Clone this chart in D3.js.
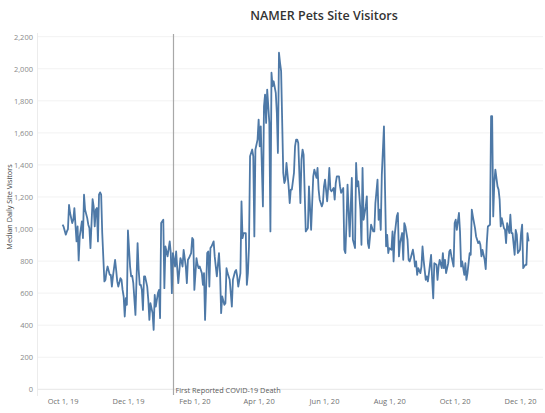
<!DOCTYPE html>
<html>
<head>
<meta charset="utf-8">
<script src="https://cdn.jsdelivr.net/npm/d3@7"></script>
<style>
  html, body { margin: 0; padding: 0; background: #fff; }
  svg { display: block; }
</style>
</head>
<body>
<svg id="chart" width="545" height="413"></svg>
<script>
// ---- Data ----
const chartTitle = "NAMER Pets Site Visitors";
const yAxisTitle = "Median Daily Site Visitors";
const startDate = "2019-10-01";
const markerDate = "2020-01-12";
const markerLabel = "First Reported COVID-19 Death";
const yTicks = [0, 200, 400, 600, 800, 1000, 1200, 1400, 1600, 1800, 2000, 2200];
const xTickDates = ["2019-10-01", "2019-12-01", "2020-02-01", "2020-04-01", "2020-06-01", "2020-08-01", "2020-10-01", "2020-12-01"];

// days since startDate
const dayOffsets = [
  0,1,3,4,5,6,7,9,10,11,13,14,15,16,18,19,20,21,23,24,25,26,28,29,30,31,32,33,34,35,36,37,39,40,41,42,44,45,46,47,49,50,51,52,54,55,56,57,58,59,60,61,
  63,64,65,66,68,69,70,71,72,73,74,75,76,77,79,80,81,82,84,85,86,87,89,90,91,92,94,95,96,97,98,100,101,102,103,105,106,107,108,110,111,112,113,115,116,117,118,120,121,122,123,125,126,127,128,
  130,131,132,133,135,136,137,138,139,141,142,143,144,146,147,148,149,151,152,153,154,156,157,158,159,161,162,163,164,166,167,168,169,171,172,173,174,175,177,178,179,180,182,183,184,185,187,188,
  189,190,191,193,194,195,196,197,199,200,201,202,203,204,206,207,208,209,211,212,213,214,216,217,218,219,220,222,223,224,225,227,228,229,230,232,233,234,235,237,238,239,240,242,243,244,245,247,248,249,250,251,253,254,255,256,258,259,
  260,262,263,264,265,266,268,269,270,271,273,274,275,276,278,279,280,281,283,284,285,286,288,289,290,291,292,294,295,296,297,298,300,301,302,303,304,305,307,308,309,310,312,313,314,315,317,318,319,320,322,323,324,325,327,328,329,
  330,331,332,334,335,336,337,339,340,341,342,344,345,346,347,349,350,351,352,354,355,356,357,358,360,361,362,363,365,366,367,368,370,371,372,373,375,376,377,378,380,381,382,383,
  385,386,388,389,390,391,392,394,395,396,397,399,400,401,402,403,404,406,407,408,409,410,412,413,414,415,417,418,419,420,422,423,424,425,427,428,429,430,432,433,434,435
];
const visitors = [
  1027,1013,965,985,1000,1150,1100,1037,1058,1131,923,1016,804,954,1048,944,1214,1120,1068,1027,1006,881,1187,1141,1016,1120,1131,923,1214,1229,1214,975,673,683,735,766,714,714,641,704,808,745,673,641,693,683,620,579,454,568,527,991,
  766,704,708,662,464,683,912,745,652,652,620,495,704,704,641,558,433,537,475,371,589,516,600,620,444,1037,1058,631,891,860,829,923,850,600,850,766,860,756,662,819,798,766,870,766,662,808,819,850,944,933,620,819,777,756,766,
  725,652,725,433,850,860,641,881,891,923,829,766,704,850,725,475,579,527,537,756,725,683,600,516,683,735,745,704,641,725,1173,943,975,975,652,725,891,1454,1496,1454,954,1496,1558,1683,1516,1641,1141,1766,
  1839,1662,1870,1662,985,1975,1891,1922,1850,1725,1475,2100,2037,1985,1350,1287,1308,1412,1266,1162,1246,1246,1350,1516,1558,1558,1537,1162,1433,1496,1464,985,995,1006,1266,995,1162,1329,1371,1319,1381,1246,1183,1141,1162,1266,1308,1173,1266,1381,1246,1235,1256,1183,1287,1329,1329,1266,
  1225,1256,871,850,1037,1277,954,1141,1319,933,881,1412,1266,1298,1121,902,1381,1058,1141,1204,912,881,1027,1006,985,985,1162,1308,1058,1121,995,1339,1641,1246,892,964,850,881,871,985,798,964,1079,1100,829,912,975,808,1037,1016,933,808,798,819,871,829,766,
  798,714,756,725,766,891,808,683,704,673,725,839,683,568,787,777,683,766,808,756,850,756,808,725,787,860,870,829,766,1037,1058,995,1100,985,766,798,714,787,683,725,850,839,1121,1079,
  1006,954,912,923,902,829,870,808,750,912,1016,1027,1704,1704,1079,1287,1371,1266,1246,1183,1016,1068,1006,995,912,1037,975,1089,975,975,839,995,964,850,870,975,1027,756,777,777,975,923
];

// ---- Drawing ----
const svg = d3.select("#chart");
const W = 545, H = 413;
const plotLeft = 37, plotRight = 543, plotTop = 33, plotBottom = 396;

const parse = d3.timeParse("%Y-%m-%d");
const start = parse(startDate);
const data = dayOffsets.map((d, i) => ({ date: d3.timeDay.offset(start, d), value: visitors[i] }));

const x = d3.scaleTime()
  .domain([parse("2019-10-01"), parse("2020-12-01")])
  .range([62.6, 520]);
const y = d3.scaleLinear().domain([0, 2200]).range([389.3, 36.7]);

const fontFam = "'Open Sans', 'Noto Sans', sans-serif";

// gridlines
svg.append("g").selectAll("line").data(yTicks).join("line")
  .attr("x1", plotLeft).attr("x2", plotRight)
  .attr("y1", d => y(d)).attr("y2", d => y(d))
  .attr("stroke", d => d === 0 ? "#e6e6e6" : "#f2f2f2")
  .attr("stroke-width", 1);

// left axis line
svg.append("line")
  .attr("x1", plotLeft + 0.5).attr("x2", plotLeft + 0.5)
  .attr("y1", plotTop).attr("y2", plotBottom)
  .attr("stroke", "#ececec");

// y axis tick labels
const yAxis = d3.axisLeft(y).tickValues(yTicks).tickSize(0).tickPadding(0)
  .tickFormat(d3.format(","));
const gy = svg.append("g").attr("transform", `translate(${plotLeft - 4},0)`).call(yAxis);
gy.select(".domain").remove();
gy.selectAll("text").attr("font-family", fontFam).attr("font-size", 7.5).attr("fill", "#8a8a8a");

// x axis tick labels
const xAxis = d3.axisBottom(x).tickValues(xTickDates.map(parse)).tickSize(0).tickPadding(0)
  .tickFormat(d3.timeFormat("%b %-d, %y"));
const gx = svg.append("g").attr("transform", `translate(0,${plotBottom + 3})`).call(xAxis);
gx.select(".domain").remove();
gx.selectAll("text").attr("font-family", fontFam).attr("font-size", 7.5).attr("fill", "#6f6f6f");

// marker line
const mx = Math.round(x(parse(markerDate))) + 0.5;
svg.append("line")
  .attr("x1", mx).attr("x2", mx)
  .attr("y1", plotTop + 1).attr("y2", plotBottom - 1)
  .attr("stroke", "#a8a8a8").attr("stroke-width", 1.2);
svg.append("text")
  .attr("x", mx + 2).attr("y", 393)
  .attr("font-family", fontFam).attr("font-size", 7.3).attr("fill", "#5a5a5a")
  .text(markerLabel);

// line
const line = d3.line().x(d => x(d.date)).y(d => y(d.value));
svg.append("path").datum(data)
  .attr("d", line)
  .attr("fill", "none")
  .attr("stroke", "#4e79a7")
  .attr("stroke-width", 1.8)
  .attr("stroke-linejoin", "round");

// title
svg.append("text")
  .attr("x", 324).attr("y", 20)
  .attr("text-anchor", "middle")
  .attr("font-family", fontFam).attr("font-weight", 600)
  .attr("font-size", 12.5).attr("fill", "#333")
  .text(chartTitle);

// y axis title
svg.append("text")
  .attr("transform", `translate(12,207) rotate(-90)`)
  .attr("text-anchor", "middle")
  .attr("font-family", fontFam).attr("font-size", 7.3).attr("fill", "#444")
  .text(yAxisTitle);
</script>
</body>
</html>
